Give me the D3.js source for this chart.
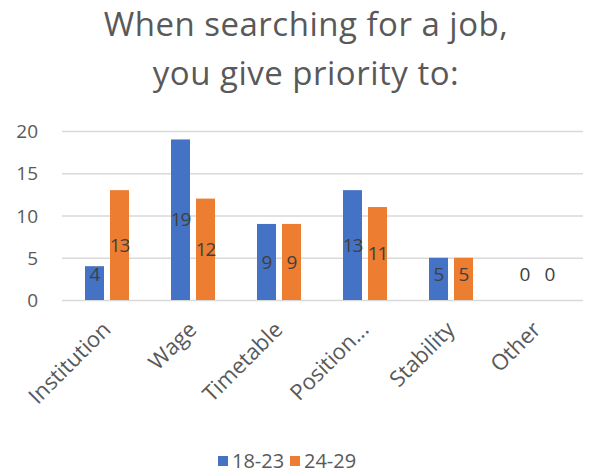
<!DOCTYPE html>
<html><head><meta charset="utf-8">
<script src="https://cdn.jsdelivr.net/npm/d3@7"></script>
<style>body{margin:0;background:#fff;} svg{display:block;}</style>
</head><body>
<svg id="c" width="590" height="474"></svg>
<script>
const categories = ["Institution","Wage","Timetable","Position...","Stability","Other"];
const series1Name = "18-23";
const series2Name = "24-29";
const series1 = [4,19,9,13,5,0];
const series2 = [13,12,9,11,5,0];
const yTicks = [0,5,10,15,20];
const titleLines = ["When searching for a job,","you give priority to:"];

const svg = d3.select("#c");
const font = "'Open Sans', 'Noto Sans', sans-serif";
const x0 = d3.scaleBand().domain(categories).range([64,580]);
const y = d3.scaleLinear().domain([0,20]).range([300,131]);
const keys = [series1Name, series2Name];
const colors = {"18-23":"#4472C4","24-29":"#ED7D31"};
const data = categories.map((c,i)=>({cat:c, vals:[{k:series1Name,v:series1[i]},{k:series2Name,v:series2[i]}]}));
const x1 = d3.scaleBand().domain(keys).range([x0.bandwidth()/2-22, x0.bandwidth()/2+22]).paddingInner(0.24);

// title
svg.selectAll("text.title").data(titleLines).join("text")
  .attr("class","title").attr("x",306).attr("y",(d,i)=>36+i*49)
  .attr("text-anchor","middle").attr("font-family",font).attr("font-size",33)
  .attr("letter-spacing","0.5")
  .attr("fill","#595959").text(d=>d);

// grid
const yAxis = d3.axisLeft(y).tickValues(yTicks).tickSize(-(583-62)).tickPadding(24);
const ga = svg.append("g").attr("transform","translate(62,0)").call(yAxis);
ga.select(".domain").remove();
ga.selectAll(".tick line").attr("stroke","#d9d9d9").attr("stroke-width",1.3);
ga.selectAll(".tick text").attr("font-family",font).attr("font-size",19).attr("fill","#595959").attr("dy","0.35em");

// bars
const g = svg.append("g");
const grp = g.selectAll("g.cat").data(data).join("g").attr("transform",d=>`translate(${x0(d.cat)},0)`);
grp.selectAll("rect").data(d=>d.vals).join("rect")
  .attr("x",d=>x1(d.k)).attr("width",x1.bandwidth())
  .attr("y",d=>y(d.v)).attr("height",d=>y(0)-y(d.v))
  .attr("fill",d=>colors[d.k]);
grp.selectAll("text").data(d=>d.vals).join("text")
  .attr("x",d=>x1(d.k)+x1.bandwidth()/2)
  .attr("y",d=>Math.min((y(d.v)+y(0))/2, 274))
  .attr("dy","0.35em").attr("text-anchor","middle")
  .attr("font-family",font).attr("font-size",19).attr("fill","#404040")
  .attr("letter-spacing","-1")
  .text(d=>d.v);

// x labels
svg.selectAll("text.xl").data(categories).join("text").attr("class","xl")
  .attr("transform",d=>`translate(${x0(d)+x0.bandwidth()/2+5},${331}) rotate(-45)`)
  .attr("text-anchor","end").attr("font-family",font).attr("font-size",22)
  .attr("fill","#595959").text(d=>d);

// legend
const lg = svg.append("g");
const lx = [218, 290];
keys.forEach((k,i)=>{
  lg.append("rect").attr("x",lx[i]).attr("y",456).attr("width",10).attr("height",10).attr("fill",colors[k]);
  lg.append("text").attr("x",lx[i]+14).attr("y",468).attr("font-family",font).attr("font-size",20)
    .attr("fill","#595959").text(k);
});
</script>
</body></html>
